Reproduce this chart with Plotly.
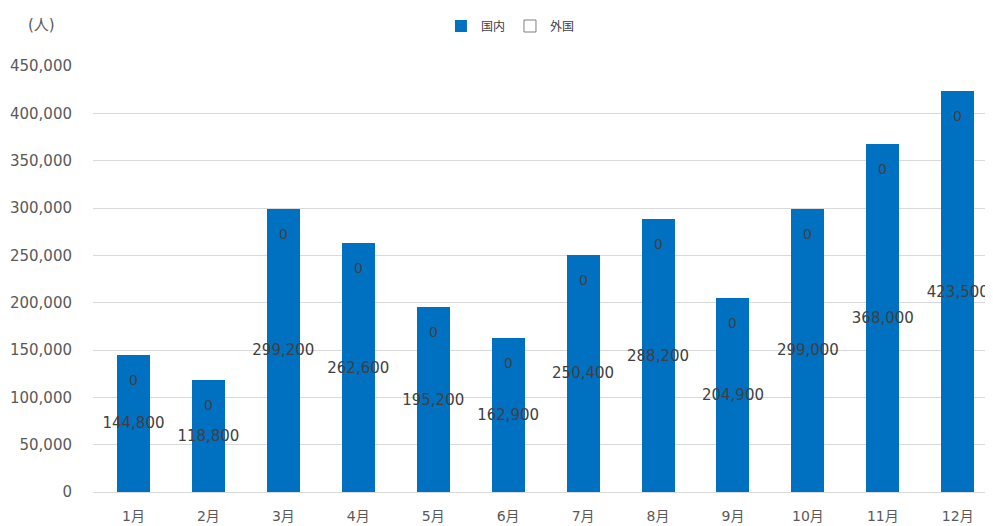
import plotly.graph_objects as go

months = ["1月", "2月", "3月", "4月", "5月", "6月", "7月", "8月", "9月", "10月", "11月", "12月"]
domestic = [144800, 118800, 299200, 262600, 195200, 162900, 250400, 288200, 204900, 299000, 368000, 423500]
foreign = [0, 0, 0, 0, 0, 0, 0, 0, 0, 0, 0, 0]
y_ticks = [0, 50000, 100000, 150000, 200000, 250000, 300000, 350000, 400000, 450000]

FONT = "DejaVu Sans, Noto Sans CJK JP"
BLUE = "#0070C0"
LABEL = "#404040"
TICK = "#595959"

fig = go.Figure()
fig.add_trace(go.Bar(
    x=months, y=domestic, name="国内",
    marker=dict(color=BLUE, line=dict(width=0)),
    text=[f"{v:,}" for v in domestic], textposition="inside",
    insidetextanchor="middle", textangle=0,
    textfont=dict(color=LABEL, size=15, family=FONT),
    width=0.44,
))
fig.add_trace(go.Bar(
    x=months, y=foreign, name="外国", showlegend=False,
    marker=dict(color="white", line=dict(width=0)),
    width=0.44,
))
# legend swatch for 外国 (white square with grey border)
fig.add_trace(go.Bar(
    x=[None], y=[None], name="外国",
    marker=dict(color="white", line=dict(color="#7f7f7f", width=1)),
))

for m, d, f in zip(months, domestic, foreign):
    fig.add_annotation(x=m, y=d + f, text=str(f), showarrow=False,
                       yshift=-25, font=dict(color=LABEL, size=14, family=FONT))

fig.add_annotation(xref="paper", yref="paper", x=-0.0567, y=(484 - 17) / 426,
                   xanchor="center", yanchor="middle", text="(人)", showarrow=False,
                   font=dict(color=TICK, size=15, family=FONT))

fig.update_layout(
    barmode="stack",
    width=993, height=526,
    margin=dict(l=85, r=8, t=58, b=42),
    paper_bgcolor="white", plot_bgcolor="white",
    font=dict(family=FONT, color=TICK, size=13),
    uniformtext=dict(minsize=15, mode="show"),
    legend=dict(orientation="h", xref="container", yref="container",
                x=0.506, y=1 - 18 / 526, xanchor="center", yanchor="middle",
                font=dict(size=12, color="#404040"), traceorder="normal",
                itemwidth=30, tracegroupgap=0),
    xaxis=dict(showgrid=False, showline=True, linecolor="#D9D9D9", ticks="",
               range=[-0.54, 11.47], automargin=False,
               tickfont=dict(size=14, color=TICK), ticklabelstandoff=11),
    yaxis=dict(range=[0, 450000], tickvals=y_ticks, automargin=False,
               ticktext=[f"{v:,}" for v in y_ticks],
               showgrid=True, gridcolor="#D9D9D9", zeroline=False, ticks="",
               tickfont=dict(size=15, color=TICK), ticklabelstandoff=20),
)

fig.write_html("out.html")
